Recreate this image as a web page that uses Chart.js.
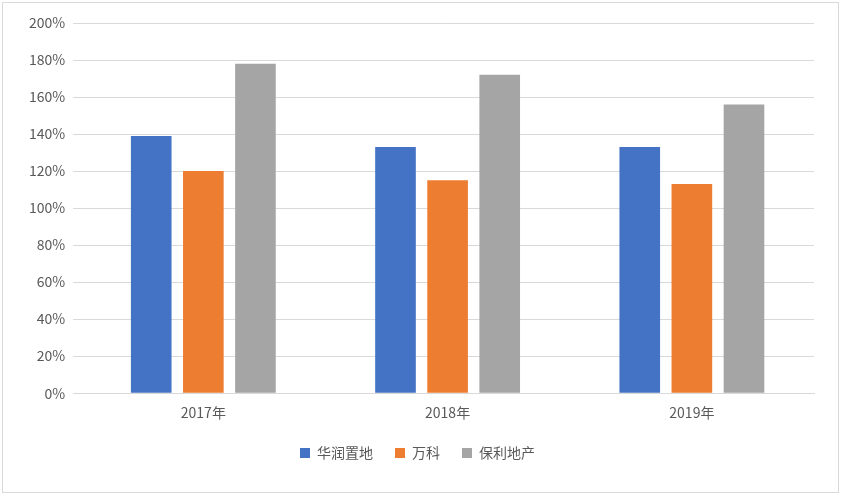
<!DOCTYPE html>
<html>
<head>
<meta charset="utf-8">
<script src="https://cdn.jsdelivr.net/npm/chart.js@4"></script>
<style>
  html, body { margin: 0; padding: 0; background: #fff; }
  #wrap { position: absolute; left: 2px; top: 2px; width: 837px; height: 491px; border: 1px solid #d9d9d9; box-sizing: border-box; }
</style>
</head>
<body>
<div id="wrap"><canvas id="chart"></canvas></div>
<script>
const years = ['2017年', '2018年', '2019年'];
const huarun = [139, 133, 133];
const vanke = [120, 115, 113];
const poly = [178, 172, 156];
const yTicks = [0, 20, 40, 60, 80, 100, 120, 140, 160, 180, 200];

const font = { family: "'Noto Sans CJK SC', 'Noto Sans', sans-serif", size: 14 };

new Chart(document.getElementById('chart').getContext('2d'), {
    type: 'bar',
    data: {
        labels: years,
        datasets: [
            { label: '华润置地', data: huarun, backgroundColor: '#4472c4' },
            { label: '万科', data: vanke, backgroundColor: '#ed7d31' },
            { label: '保利地产', data: poly, backgroundColor: '#a5a5a5' }
        ]
    },
    options: {
        responsive: true,
        maintainAspectRatio: false,
        animation: false,
        layout: { padding: { left: 18, right: 24, top: 20, bottom: 22 } },
        datasets: { bar: { categoryPercentage: 0.64, barPercentage: 0.78 } },
        plugins: {
            legend: {
                position: 'bottom',
                labels: { font: font, color: '#595959', boxWidth: 10, boxHeight: 10, padding: 22 }
            },
            tooltip: { enabled: false }
        },
        scales: {
            x: {
                grid: { display: false },
                border: { color: '#d9d9d9' },
                ticks: { font: font, color: '#595959' }
            },
            y: {
                min: 0, max: 200,
                afterBuildTicks: axis => { axis.ticks = yTicks.map(v => ({ value: v })); },
                grid: { color: '#d9d9d9' },
                border: { display: false },
                ticks: { font: font, color: '#595959', padding: 8, callback: v => v + '%' }
            }
        }
    }
});
</script>
</body>
</html>
